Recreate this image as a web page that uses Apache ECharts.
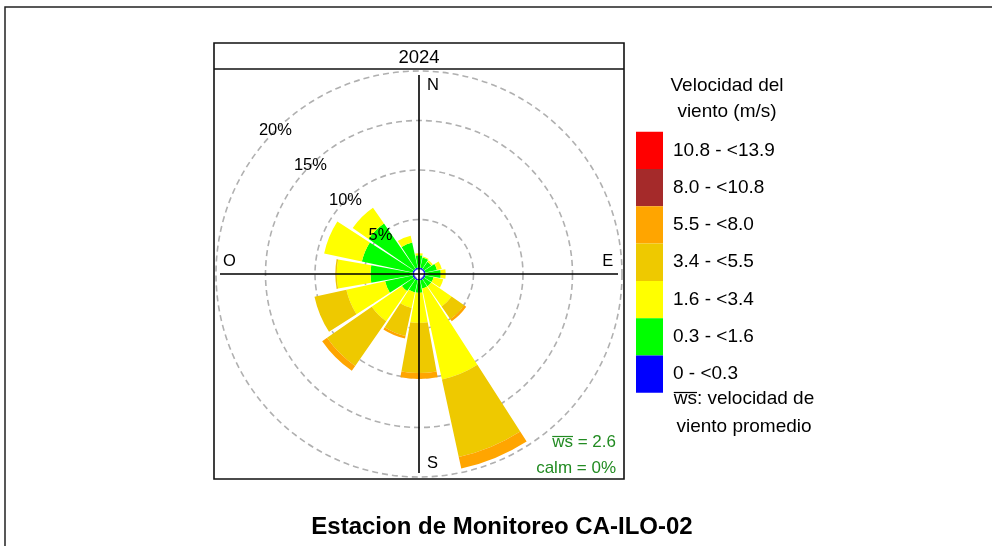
<!DOCTYPE html>
<html>
<head>
<meta charset="utf-8">
<title>Rosa de vientos - CA-ILO-02</title>
<script src="https://cdn.jsdelivr.net/npm/echarts@6/dist/echarts.min.js"></script>
<style>
  html, body { margin: 0; padding: 0; background: #fff; }
  #rose { width: 992px; height: 546px; }
</style>
</head>
<body>
<div id="rose"></div>
<script>
// direcciones (16 sectores de 22.5 grados), en sentido horario desde el norte
var directions = ['N', 'NNE', 'NE', 'ENE', 'E', 'ESE', 'SE', 'SSE', 'S', 'SSW', 'SW', 'WSW', 'W', 'WNW', 'NW', 'NNW'];

// frecuencia (%) de cada clase de velocidad por direccion
var ws_0_03    = [0.15, 0.15, 0.15, 0.15, 0.15, 0.15, 0.15, 0.15, 0.15, 0.15, 0.15, 0.15, 0.15, 0.15, 0.15, 0.15];
var ws_03_16   = [1.25, 1.05, 0.85, 1.2, 1.55, 0.85, 0.85, 0.85, 1.25, 1.25, 1.45, 2.85, 4.25, 5.25, 5.55, 2.6];
var ws_16_34   = [0.2, 0.1, 0.2, 0.5, 0.5, 1.0, 2.5, 9.4, 3.05, 1.6, 3.7, 4.0, 3.4, 3.9, 1.95, 0.7];
var ws_34_55   = [0, 0, 0, 0, 0, 0, 1.55, 8.0, 5.05, 2.9, 5.5, 3.3, 0.15, 0, 0, 0];
var ws_55_80   = [0, 0, 0, 0, 0, 0, 0.25, 1.2, 0.6, 0.25, 0.6, 0, 0, 0, 0, 0];
var ws_80_108  = [0, 0, 0, 0, 0, 0, 0, 0, 0, 0, 0, 0, 0, 0, 0, 0];
var ws_108_139 = [0, 0, 0, 0, 0, 0, 0, 0, 0, 0, 0, 0, 0, 0, 0, 0];

var ringTicks = [5, 10, 15, 20];
var compass = ['N', 'E', 'S', 'O'];
var meanWs = 2.6;
var calmPct = 0;

var FONT = '"Liberation Sans", Arial, sans-serif';

var bins = [
  { name: '0 - <0.3',     color: '#0000FF', data: ws_0_03 },
  { name: '0.3 - <1.6',   color: '#00FF00', data: ws_03_16 },
  { name: '1.6 - <3.4',   color: '#FFFF00', data: ws_16_34 },
  { name: '3.4 - <5.5',   color: '#EEC900', data: ws_34_55 },
  { name: '5.5 - <8.0',   color: '#FFA500', data: ws_55_80 },
  { name: '8.0 - <10.8',  color: '#A52A2A', data: ws_80_108 },
  { name: '10.8 - <13.9', color: '#FF0000', data: ws_108_139 }
];

var series = bins.map(function (b) {
  return {
    name: b.name,
    type: 'bar',
    coordinateSystem: 'polar',
    polarIndex: 0,
    stack: 'rosa',
    barCategoryGap: '9%',
    itemStyle: { color: b.color },
    silent: true,
    data: b.data
  };
});

// etiquetas de los anillos (5%, 10%...) sobre el sector NW
series.push({
  type: 'scatter',
  coordinateSystem: 'polar',
  polarIndex: 0,
  symbolSize: 0,
  z: 5,
  silent: true,
  itemStyle: { opacity: 1 },
  label: {
    show: true, position: 'inside', color: '#000', fontSize: 16.5, fontFamily: FONT,
    formatter: function (p) { return p.value[0] + '%'; }
  },
  data: ringTicks.map(function (t) { return [t, 'NW']; })
});

// letras de los puntos cardinales
var compassLabel = {
  N: { r: 0.946, pos: 'right', dist: 8 },
  E: { r: 0.949, pos: 'top', dist: 4 },
  S: { r: 0.953, pos: 'right', dist: 8 },
  O: { r: 0.953, pos: 'top', dist: 4 }
};
series.push({
  type: 'scatter',
  coordinateSystem: 'polar',
  polarIndex: 1,
  symbolSize: 0,
  z: 5,
  silent: true,
  itemStyle: { opacity: 1 },
  data: compass.map(function (c, i) {
    var cfg = compassLabel[c];
    return {
      value: [cfg.r, i * 90],
      label: {
        show: true, position: cfg.pos, distance: cfg.dist, formatter: c,
        color: '#000', fontSize: 16.5, fontFamily: FONT
      }
    };
  })
});

// ancho de un texto, para poner la barra sobre "ws"
var measureCtx = document.createElement('canvas').getContext('2d');
function textWidth(str, font) {
  measureCtx.font = font;
  return measureCtx.measureText(str).width;
}

var noteFont = '17px ' + FONT;
var noteText = 'ws = ' + meanWs.toFixed(1);
var noteX0 = 616 - textWidth(noteText, noteFont);
var keyFont = '19px ' + FONT;
var keyText = 'ws: velocidad de';
var keyX0 = 744 - textWidth(keyText, keyFont) / 2;

var hidden = { show: false };

var option = {
  animation: false,
  backgroundColor: '#fff',
  textStyle: { fontFamily: FONT },
  polar: [
    { center: [419, 274], radius: [5, 203] },
    { center: [419, 274], radius: [0, 199] }
  ],
  angleAxis: [
    {
      polarIndex: 0, type: 'category', data: directions,
      startAngle: 90 + 11.25, clockwise: true,
      axisLine: hidden, axisTick: hidden, axisLabel: hidden, splitLine: hidden, splitArea: hidden
    },
    {
      polarIndex: 1, type: 'value', min: 0, max: 360, interval: 90,
      startAngle: 90, clockwise: true, z: 10,
      axisLine: hidden, axisTick: hidden, axisLabel: hidden, splitArea: hidden,
      splitLine: { show: true, lineStyle: { color: '#000', width: 1.6 } }
    }
  ],
  radiusAxis: [
    {
      polarIndex: 0, min: 0, max: 20, interval: 5,
      axisLine: hidden, axisTick: hidden, axisLabel: hidden, splitArea: hidden,
      splitLine: { show: true, lineStyle: { color: '#b0b0b0', width: 1.6, type: [6, 4] } }
    },
    {
      polarIndex: 1, min: 0, max: 1,
      axisLine: hidden, axisTick: hidden, axisLabel: hidden, splitLine: hidden, splitArea: hidden
    }
  ],
  legend: {
    orient: 'vertical',
    left: 636,
    top: 131.7,
    padding: 0,
    itemWidth: 27,
    itemHeight: 37.3,
    itemGap: 0,
    icon: 'rect',
    selectedMode: false,
    data: bins.map(function (b) { return b.name; }).reverse(),
    textStyle: { fontSize: 19, color: '#000', fontFamily: FONT, padding: [0, 0, 0, 5] }
  },
  graphic: [
    // marco exterior (se corta en el borde derecho e inferior)
    { type: 'rect', shape: { x: 5, y: 7, width: 1100, height: 700 },
      style: { fill: null, stroke: '#222', lineWidth: 1.5 }, silent: true },
    // panel y franja del anio
    { type: 'rect', shape: { x: 214, y: 43, width: 410, height: 436 },
      style: { fill: null, stroke: '#111', lineWidth: 1.6 }, z: 20, silent: true },
    { type: 'line', shape: { x1: 214, y1: 69, x2: 624, y2: 69 },
      style: { stroke: '#111', lineWidth: 1.6 }, z: 20, silent: true },
    { type: 'text', z: 20, style: { x: 419, y: 57.5, text: '2024', textAlign: 'center', textVerticalAlign: 'middle',
      font: '18.5px ' + FONT, fill: '#000' } },
    // anotaciones en verde
    { type: 'text', z: 20, style: { x: 616, y: 442, text: noteText, textAlign: 'right',
      textVerticalAlign: 'middle', font: noteFont, fill: '#228B22' } },
    { type: 'line', z: 20, silent: true,
      shape: { x1: noteX0, y1: 436.5, x2: noteX0 + textWidth('ws', noteFont), y2: 436.5 },
      style: { stroke: '#228B22', lineWidth: 1.2 } },
    { type: 'text', z: 20, style: { x: 616, y: 468, text: 'calm = ' + calmPct + '%', textAlign: 'right',
      textVerticalAlign: 'middle', font: noteFont, fill: '#228B22' } },
    // titulo y notas de la leyenda
    { type: 'text', z: 20, style: { x: 727, y: 99, text: 'Velocidad del\nviento (m/s)', textAlign: 'center',
      textVerticalAlign: 'middle', font: keyFont, lineHeight: 26, fill: '#000' } },
    { type: 'text', z: 20, style: { x: 744, y: 413, text: keyText + '\nviento promedio', textAlign: 'center',
      textVerticalAlign: 'middle', font: keyFont, lineHeight: 28, fill: '#000' } },
    { type: 'line', z: 20, silent: true,
      shape: { x1: keyX0, y1: 392.5, x2: keyX0 + textWidth('ws', keyFont), y2: 392.5 },
      style: { stroke: '#000', lineWidth: 1.2 } },
    { type: 'text', z: 20, style: { x: 502, y: 527, text: 'Estacion de Monitoreo CA-ILO-02', textAlign: 'center',
      textVerticalAlign: 'middle', font: 'bold 24px ' + FONT, fill: '#000' } }
  ],
  series: series
};

var chart = echarts.init(document.getElementById('rose'));
chart.setOption(option);
</script>
</body>
</html>
